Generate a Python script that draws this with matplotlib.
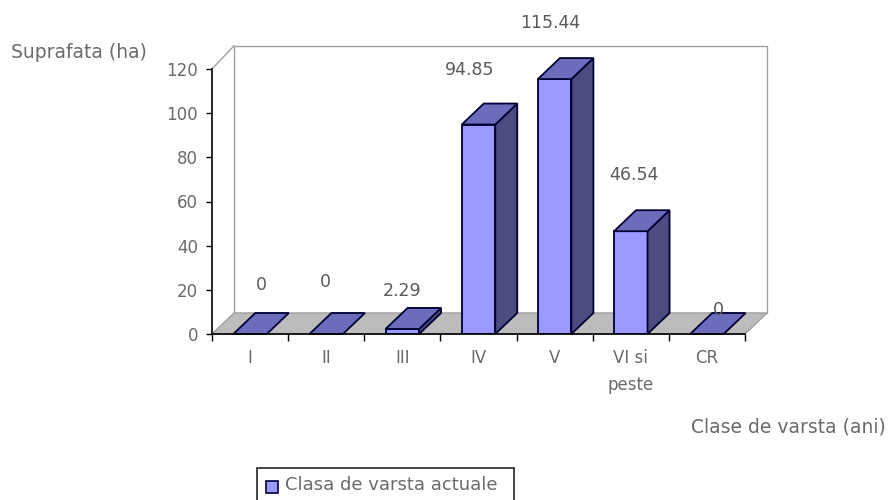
import matplotlib
matplotlib.use("Agg")
import matplotlib.pyplot as plt
from matplotlib.patches import Polygon, Rectangle

categories = ["I", "II", "III", "IV", "V", "VI si\npeste", "CR"]
values = [0, 0, 2.29, 94.85, 115.44, 46.54, 0]
value_labels = ["0", "0", "2.29", "94.85", "115.44", "46.54", "0"]
y_ticks = [0, 20, 40, 60, 80, 100, 120]

W, H = 894, 500
TEXT = "#6a6a6a"
FRONT = "#9999ff"
TOP = "#6c6cbd"
SIDE = "#4c4c80"
EDGE = "#000033"
WALL = "#a0a0a0"
FS = 12

plt.rcParams["font.family"] = ["DejaVu Sans"]

# label offsets from the bar front top, pixels
offsets = [(11, 49), (-1, 52), (0, 38), (-9, 55), (-4, 56), (3, 56), (11, 24)]


def px_axes(fig, x0, x1, y_top, y_bottom):
    return fig.add_axes([x0 / W, 1 - y_bottom / H, (x1 - x0) / W, (y_bottom - y_top) / H])


def draw_bar(ax, c, v, half, dx, dy):
    l, r = c - half, c + half
    if v > 0:
        ax.add_patch(Rectangle((l, 0), r - l, v, fc=FRONT, ec=EDGE, lw=1.3, zorder=5))
        ax.add_patch(Polygon([(r, 0), (r + dx, dy), (r + dx, v + dy), (r, v)], fc=SIDE, ec=EDGE, lw=1.3, zorder=5, clip_on=False))
    ax.add_patch(Polygon([(l, v), (r, v), (r + dx, v + dy), (l + dx, v + dy)], fc=TOP, ec=EDGE, lw=1.3, zorder=5, clip_on=False))


def main():
    fig = plt.figure(figsize=(W / 100, H / 100), dpi=100)
    ax = px_axes(fig, 212, 745, 69, 334)
    ax.set_xlim(0, 7)
    ax.set_ylim(0, 120)
    ax.patch.set_visible(False)

    dx = 22 / (533 / 7)
    dy = 21 / (265 / 120)
    wall_top = 121 + dy

    # walls and floor
    ax.add_patch(Polygon([(dx, dy), (7 + dx, dy), (7 + dx, wall_top), (dx, wall_top)], fc="white", ec=WALL, lw=1.0, clip_on=False, zorder=1))
    ax.plot([0, dx], [120, wall_top], color=WALL, lw=1.0, clip_on=False, zorder=1)
    ax.add_patch(Polygon([(0, 0), (7, 0), (7 + dx, dy), (dx, dy)], fc="#bcbcbc", ec=WALL, lw=1.0, clip_on=False, zorder=2))

    for i, v in enumerate(values):
        draw_bar(ax, i + 0.5, v, 0.22, dx, dy)

    for i, v in enumerate(values):
        ax.annotate(value_labels[i], (i + 0.5, v), xytext=offsets[i], textcoords="offset pixels",
                    ha="center", va="center", color="#5a5a5a", fontsize=FS + 0.5, zorder=8, annotation_clip=False)

    for s in ["top", "right"]:
        ax.spines[s].set_visible(False)
    for s in ["left", "bottom"]:
        ax.spines[s].set_color("black")
        ax.spines[s].set_linewidth(1.2)
        ax.spines[s].set_zorder(6)

    ax.set_yticks(y_ticks)
    ax.tick_params(axis="y", length=4, width=1, color="black", labelcolor=TEXT, labelsize=FS, pad=6)
    ax.set_xticks(range(8))
    ax.set_xticklabels([])
    ax.set_xticks([i + 0.5 for i in range(7)], minor=True)
    ax.set_xticklabels(categories, minor=True, linespacing=1.6, va="top")
    ax.tick_params(axis="x", which="major", length=5, width=1, color="black")
    ax.tick_params(axis="x", which="minor", length=0, labelcolor=TEXT, labelsize=FS, pad=11)

    fig.text(11 / W, 1 - 53 / H, "Suprafata (ha)", color=TEXT, fontsize=FS + 1.5, va="center")
    fig.text(691 / W, 1 - 427 / H, "Clase de varsta (ani)", color=TEXT, fontsize=FS + 1.5, va="center")

    # legend box runs past the bottom of the picture
    fig.add_artist(Rectangle((257 / W, -10 / H), 257 / W, 42 / H, transform=fig.transFigure, fc="white", ec="#222222", lw=1.2))
    fig.add_artist(Rectangle((266 / W, 1 - 493 / H), 12 / W, 12 / H, transform=fig.transFigure, fc=FRONT, ec=EDGE, lw=1.2))
    fig.text(285 / W, 1 - 485 / H, "Clasa de varsta actuale", color=TEXT, fontsize=FS + 1, va="center")

    fig.savefig("out.png", dpi=100)


if __name__ == "__main__":
    main()
